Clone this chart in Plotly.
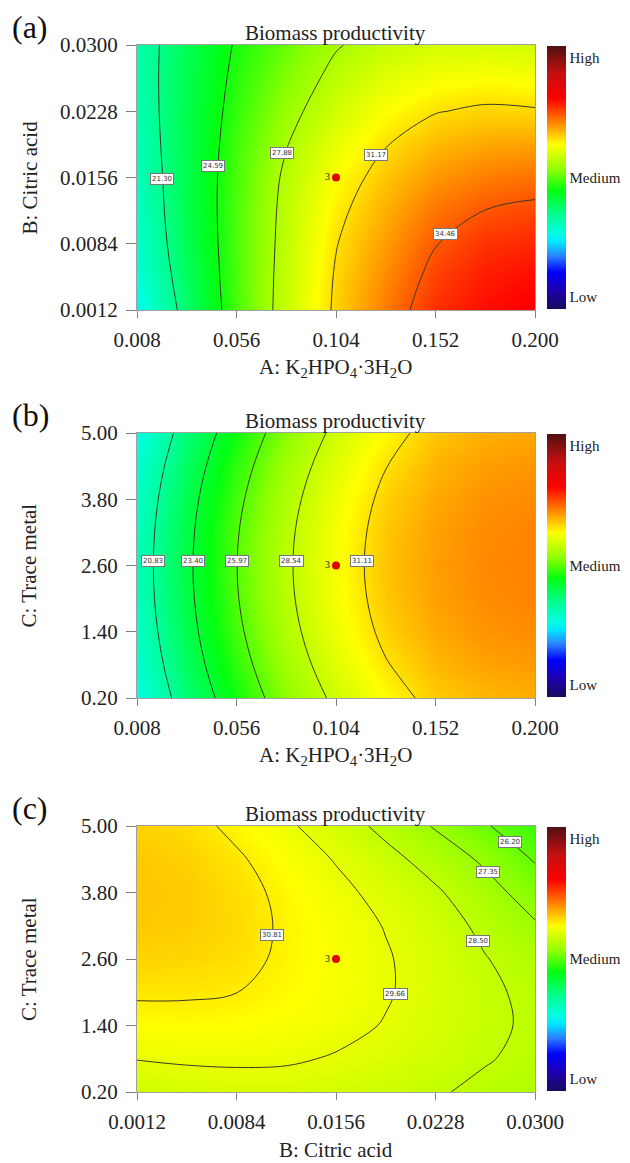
import plotly.graph_objects as go

# ---------------- data ----------------
# Panel (a): Biomass productivity vs A (K2HPO4.3H2O) and B (citric acid)
a_A = [0.008, 0.032, 0.056, 0.080, 0.104, 0.128, 0.152, 0.176, 0.200]
a_B = [0.0012, 0.0048, 0.0084, 0.0120, 0.0156, 0.0192, 0.0228, 0.0264, 0.0300]
a_Z = [
    [18.1, 22.05, 25.65, 28.7, 31.45, 33.57, 35.4, 36.2, 36.7],
    [18.78, 22.38, 25.72, 28.61, 31.33, 33.18, 34.96, 35.86, 36.24],
    [19.27, 22.62, 25.75, 28.5, 31.1, 32.75, 34.4, 35.3, 35.6],
    [19.53, 22.75, 25.76, 28.39, 30.76, 32.32, 33.7, 34.48, 34.79],
    [19.7, 22.8, 25.7, 28.2, 30.3, 31.8, 32.9, 33.5, 33.8],
    [19.92, 22.82, 25.51, 27.80, 29.68, 31.10, 32.03, 32.48, 32.58],
    [20.1, 22.8, 25.27, 27.3, 29.0, 30.3, 31.1, 31.4, 31.3],
    [20.20, 22.73, 25.03, 26.80, 28.37, 29.48, 30.11, 30.28, 30.13],
    [20.24, 22.6, 24.78, 26.27, 27.75, 28.6, 29.05, 29.1, 29.0],
]
a_levels = [21.30, 24.59, 27.88, 31.17, 34.46]
a_label_x = [0.0199, 0.0448, 0.0778, 0.1233, 0.157]
a_label_y = [0.0154, 0.01685, 0.0183, 0.0180, 0.00946]

# Panel (b): vs A and C (trace metal)
b_A = [0.008, 0.032, 0.056, 0.080, 0.104, 0.128, 0.152, 0.176, 0.200]
b_C = [0.20, 0.80, 1.40, 2.00, 2.60, 3.20, 3.80, 4.40, 5.00]
b_Z = [
    [18.6, 21.8, 24.6, 27.0, 28.9, 30.4, 31.6, 32.1, 32.3],
    [19.10, 22.34, 25.19, 27.56, 29.47, 31.01, 32.08, 32.58, 32.78],
    [19.46, 22.73, 25.61, 27.96, 29.88, 31.45, 32.43, 32.93, 33.13],
    [19.68, 22.96, 25.86, 28.2, 30.12, 31.71, 32.63, 33.13, 33.33],
    [19.75, 23.04, 25.94, 28.28, 30.2, 31.8, 32.7, 33.2, 33.4],
    [19.67, 22.95, 25.85, 28.2, 30.12, 31.72, 32.64, 33.14, 33.34],
    [19.44, 22.70, 25.59, 27.95, 29.89, 31.48, 32.46, 32.98, 33.18],
    [19.05, 22.27, 25.16, 27.54, 29.49, 31.07, 32.17, 32.69, 32.89],
    [18.5, 21.67, 24.55, 26.97, 28.94, 30.5, 31.75, 32.3, 32.5],
]
b_levels = [20.83, 23.40, 25.97, 28.54, 31.11]
b_label_x = [0.0156, 0.0349, 0.0564, 0.0826, 0.1167]
b_label_y = [2.68, 2.68, 2.68, 2.68, 2.68]

# Panel (c): vs B (citric acid) and C (trace metal)
c_B = [0.0012, 0.0048, 0.0084, 0.0120, 0.0156, 0.0192, 0.0228, 0.0264, 0.0300]
c_C = [0.20, 0.80, 1.40, 2.00, 2.60, 3.20, 3.80, 4.40, 5.00]
c_Z = [
    [28.9, 29.1, 29.2, 29.2, 29.05, 28.85, 28.6, 28.3, 28.0],
    [29.69, 29.79, 29.82, 29.78, 29.58, 29.30, 28.95, 28.57, 28.27],
    [30.37, 30.4, 30.35, 30.2, 29.95, 29.6, 29.16, 28.7, 28.35],
    [30.96, 30.94, 30.82, 30.47, 30.15, 29.75, 29.23, 28.69, 28.27],
    [31.4, 31.35, 31.15, 30.6, 30.2, 29.75, 29.17, 28.55, 28.0],
    [31.65, 31.56, 31.27, 30.64, 30.15, 29.61, 29.0, 28.26, 27.47],
    [31.74, 31.6, 31.2, 30.54, 29.95, 29.31, 28.65, 27.8, 26.8],
    [31.67, 31.48, 30.96, 30.27, 29.59, 28.84, 28.06, 27.15, 26.11],
    [31.45, 31.2, 30.55, 29.84, 29.06, 28.21, 27.25, 26.31, 25.36],
]
c_levels = [26.20, 27.35, 28.50, 29.66, 30.81]
c_label_x = [0.0282, 0.0266, 0.0259, 0.0199, 0.0110]
c_label_y = [4.72, 4.17, 2.92, 1.96, 3.04]

# centre point (3 replicates)
center_a = (0.104, 0.0156)
center_b = (0.104, 2.60)
center_c = (0.0156, 2.60)
center_text = "3"

ticks_A = [0.008, 0.056, 0.104, 0.152, 0.200]
ticks_B = [0.0012, 0.0084, 0.0156, 0.0228, 0.0300]
ticks_C = [0.20, 1.40, 2.60, 3.80, 5.00]

panel_letters = ["(a)", "(b)", "(c)"]
panel_title = "Biomass productivity"
x_titles = ["A: K<sub>2</sub>HPO<sub>4</sub>·3H<sub>2</sub>O",
            "A: K<sub>2</sub>HPO<sub>4</sub>·3H<sub>2</sub>O",
            "B: Citric acid"]
y_titles = ["B: Citric acid", "C: Trace metal", "C: Trace metal"]

# ---------------- style ----------------
OFF = 8                      # browser body margin
W, H = 630 - OFF, 1163 - OFF
FONT = "Liberation Serif"
ZMIN, ZMAX = 8.5, 43.5
colorscale = [
    [0.00, "#1a0a5e"], [0.07, "#2000b0"], [0.14, "#0000ff"], [0.20, "#2a80ff"],
    [0.255, "#00e8ff"], [0.29, "#00ffe0"], [0.36, "#00ff90"], [0.45, "#00ff10"],
    [0.53, "#90ff00"], [0.625, "#ffff00"], [0.69, "#ffa000"], [0.745, "#ff5000"],
    [0.80, "#ff0000"], [0.90, "#c01010"], [1.00, "#501010"],
]

X0, X1 = 137, 535                               # page pixels
panels = [(45, 310), (433, 698), (826, 1092)]   # (top, bottom) page pixels


def fx(px):
    return (px - OFF) / W


def fy(py):
    return 1 - (py - OFF) / H


fig = go.Figure()

specs = [
    ("x", "y", a_A, a_B, a_Z, a_levels, a_label_x, a_label_y, center_a),
    ("x2", "y2", b_A, b_C, b_Z, b_levels, b_label_x, b_label_y, center_b),
    ("x3", "y3", c_B, c_C, c_Z, c_levels, c_label_x, c_label_y, center_c),
]

for i, (xa, ya, xs, ys, zs, lev, lx, ly, cen) in enumerate(specs):
    top, bot = panels[i]
    size = (lev[-1] - lev[0]) / (len(lev) - 1)
    fig.add_trace(go.Heatmap(
        x=xs, y=ys, z=zs, xaxis=xa, yaxis=ya, zsmooth="best",
        colorscale=colorscale, zmin=ZMIN, zmax=ZMAX, zauto=False,
        hoverinfo="skip",
        colorbar=dict(
            x=fx(547), xanchor="left", thickness=19, xpad=0, ypad=0,
            lenmode="pixels", len=bot - top - 2,
            y=fy(top + 1), yanchor="top",
            tickvals=[ZMIN + 1.6, (ZMIN + ZMAX) / 2, ZMAX - 1.6],
            ticktext=["Low", "Medium", "High"],
            ticks="", outlinewidth=0,
            tickfont=dict(family=FONT, size=15, color="#222"),
        ),
    ))
    fig.add_trace(go.Contour(
        x=xs, y=ys, z=zs, xaxis=xa, yaxis=ya,
        autocontour=False, showscale=False,
        contours=dict(start=lev[0], end=lev[-1] + 0.001, size=size,
                      coloring="none", showlabels=False),
        line=dict(color="#3a3a2a", width=1),
        hoverinfo="skip",
    ))
    for v, x, y in zip(lev, lx, ly):
        fig.add_annotation(x=x, y=y, xref=xa, yref=ya, text=f"{v:.2f}",
                           showarrow=False, bgcolor="white",
                           bordercolor="#777", borderwidth=1, borderpad=1,
                           font=dict(family="DejaVu Sans", size=7, color="#333"))
    fig.add_trace(go.Scatter(
        x=[cen[0]], y=[cen[1]], xaxis=xa, yaxis=ya, mode="markers+text",
        marker=dict(color="#e00000", size=8, symbol="circle"),
        text=[center_text], textposition="middle left",
        textfont=dict(family=FONT, size=10, color="#222"),
        showlegend=False, hoverinfo="skip", cliponaxis=False,
    ))

axis_common = dict(showline=True, mirror=True, linecolor="#a0a0a0", linewidth=1,
                   ticks="outside", tickcolor="#808080", automargin=False,
                   showgrid=False, zeroline=False,
                   tickfont=dict(family=FONT, size=21, color="#222"))

defs = [
    ("xaxis", "yaxis", a_A, a_B, ticks_A, ticks_B, "{:.3f}", "{:.4f}"),
    ("xaxis2", "yaxis2", b_A, b_C, ticks_A, ticks_C, "{:.3f}", "{:.2f}"),
    ("xaxis3", "yaxis3", c_B, c_C, ticks_B, ticks_C, "{:.4f}", "{:.2f}"),
]
layout_axes = {}
for i, (xk, yk, xs, ys, tx, ty, fmt_x, fmt_y) in enumerate(defs):
    top, bot = panels[i]
    anchor_y = "y" if i == 0 else f"y{i+1}"
    anchor_x = "x" if i == 0 else f"x{i+1}"
    layout_axes[xk] = dict(axis_common, domain=[fx(X0), fx(X1)], anchor=anchor_y,
                           range=[xs[0], xs[-1]], tickvals=tx, ticklen=7,
                           ticktext=[fmt_x.format(v) for v in tx],
                           ticklabelstandoff=4)
    layout_axes[yk] = dict(axis_common, domain=[fy(bot), fy(top)], anchor=anchor_x,
                           range=[ys[0], ys[-1]], tickvals=ty, ticklen=10,
                           ticktext=[fmt_y.format(v) for v in ty],
                           ticklabelstandoff=4)
fig.update_layout(**layout_axes)

for i, (top, bot) in enumerate(panels):
    fig.add_annotation(x=fx(10), y=fy(top - 18), xref="paper", yref="paper",
                       xanchor="left", yanchor="middle", text=panel_letters[i],
                       showarrow=False, font=dict(family=FONT, size=32, color="#111"))
    fig.add_annotation(x=fx((X0 + X1) / 2), y=fy(top - 12), xref="paper", yref="paper",
                       xanchor="center", yanchor="middle", text=panel_title,
                       showarrow=False, font=dict(family=FONT, size=21, color="#222"))
    fig.add_annotation(x=fx((X0 + X1) / 2), y=fy(bot + 58), xref="paper", yref="paper",
                       xanchor="center", yanchor="middle", text=x_titles[i],
                       showarrow=False, font=dict(family=FONT, size=21, color="#222"))
    fig.add_annotation(x=fx(29), y=fy((top + bot) / 2), xref="paper", yref="paper",
                       xanchor="center", yanchor="middle", text=y_titles[i],
                       textangle=-90, showarrow=False,
                       font=dict(family=FONT, size=21, color="#222"))

fig.update_layout(width=W, height=H,
                  margin=dict(l=0, r=0, t=0, b=0, autoexpand=False),
                  paper_bgcolor="white", plot_bgcolor="white", showlegend=False)

fig.write_html("out.html")
